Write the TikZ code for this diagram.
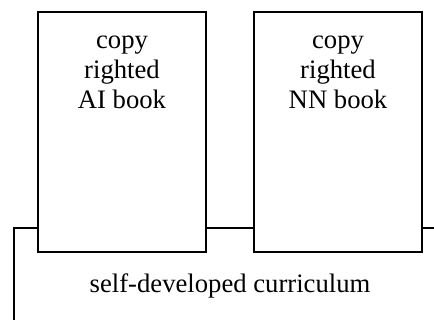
\documentclass[tikz,border=0pt]{standalone}
\usepackage{fontspec}
\setmainfont{Liberation Serif}
\usetikzlibrary{positioning}

\tikzset{
	book/.style={draw, line width=1.5pt, fill=white, minimum width=126pt, minimum height=180pt, inner sep=0pt},
	book text/.style={align=center, anchor=north, font=\fontsize{20}{22.5}\selectfont, inner sep=0pt},
	bus/.style={line width=1.5pt}
}

\begin{document}
\begin{tikzpicture}[x=0.75pt, y=-0.75pt]

	\useasboundingbox (0,0) rectangle (434,320);

	% books
	\foreach \m/\l [count=\i] in {ai/AI, nn/NN}
	{
		\node [book] (\m) at (122+\i*216-216,132) {};
		\node [book text] (\m-text) at ([yshift=-18.5pt]\m.north) {copy\\righted\\\l{} book};
	}

	% bus line
	\coordinate (corner) at (14,228);
	\coordinate (right end) at (434,228);
	\coordinate (bottom end) at (14,320);
	\draw [bus] (bottom end) -- (corner) -- (ai.west |- corner);
	\draw [bus] (ai.east |- corner) -- (nn.west |- corner);
	\draw [bus] (nn.east |- corner) -- (right end);

	% caption
	\node [font=\fontsize{20}{22.5}\selectfont] (curriculum) at (230,286) {self-developed curriculum};

\end{tikzpicture}
\end{document}
